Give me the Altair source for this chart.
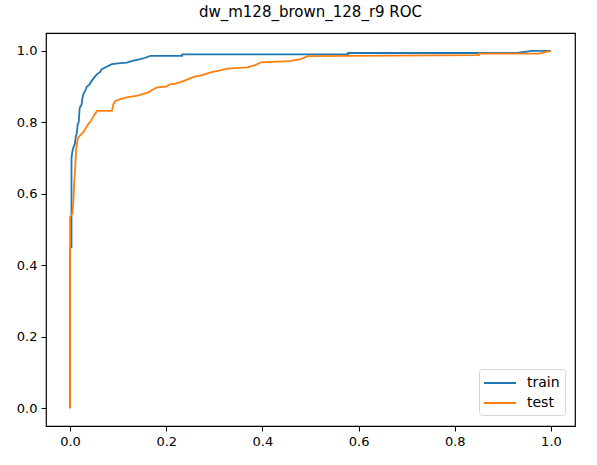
import altair as alt
import pandas as pd

TITLE = "dw_m128_brown_128_r9 ROC"

train_fpr = [0.0, 0.0, 0.003, 0.003, 0.005, 0.007, 0.010, 0.012, 0.014, 0.016, 0.018, 0.020,
             0.024, 0.026, 0.028, 0.032, 0.035, 0.040, 0.045, 0.050, 0.056, 0.062, 0.066,
             0.075, 0.087, 0.100, 0.118, 0.130, 0.146, 0.155, 0.167, 0.233, 0.233, 0.578,
             0.578, 0.930, 0.960, 1.0]
train_tpr = [0.0, 0.45, 0.45, 0.70, 0.72, 0.73, 0.74, 0.76, 0.77, 0.795, 0.80, 0.84,
             0.85, 0.87, 0.88, 0.89, 0.90, 0.905, 0.916, 0.925, 0.935, 0.94, 0.949,
             0.955, 0.963, 0.965, 0.967, 0.972, 0.977, 0.98, 0.986, 0.986, 0.99, 0.99,
             0.994, 0.994, 1.0, 1.0]

test_fpr = [0.0, 0.0, 0.005, 0.007, 0.009, 0.011, 0.0125, 0.014, 0.017, 0.022, 0.028, 0.033,
            0.038, 0.044, 0.049, 0.056, 0.087, 0.090, 0.094, 0.105, 0.118, 0.140, 0.163,
            0.170, 0.181, 0.200, 0.209, 0.216, 0.237, 0.257, 0.275, 0.292, 0.310, 0.327,
            0.369, 0.385, 0.397, 0.456, 0.480, 0.494, 0.850, 0.850, 0.975, 1.0]
test_tpr = [0.0, 0.535, 0.545, 0.58, 0.637, 0.68, 0.72, 0.74, 0.758, 0.765, 0.773, 0.785,
            0.795, 0.805, 0.818, 0.832, 0.832, 0.85, 0.86, 0.865, 0.87, 0.875, 0.884,
            0.89, 0.898, 0.90, 0.907, 0.907, 0.916, 0.927, 0.932, 0.94, 0.945, 0.95,
            0.954, 0.96, 0.968, 0.971, 0.977, 0.985, 0.988, 0.992, 0.992, 1.0]

series = ["train", "test"]
colors = ["#1f77b4", "#ff7f0e"]
ticks = [0.0, 0.2, 0.4, 0.6, 0.8, 1.0]

rows = []
for i, (x, y) in enumerate(zip(train_fpr, train_tpr)):
    rows.append({"fpr": x, "tpr": y, "set": "train", "i": i})
for i, (x, y) in enumerate(zip(test_fpr, test_tpr)):
    rows.append({"fpr": x, "tpr": y, "set": "test", "i": i})
df = pd.DataFrame(rows)

FONT = "DejaVu Sans"

xs = alt.Scale(domain=[-0.05, 1.05], nice=False, zero=False)
ys = alt.Scale(domain=[-0.05, 1.05], nice=False, zero=False)
cs = alt.Scale(domain=series, range=colors)

def axis():
    return alt.Axis(values=ticks, format=".1f", grid=False, domain=False,
                    tickColor="#000", tickSize=5, tickWidth=1,
                    labelFont=FONT, labelFontSize=13, labelColor="#000",
                    labelPadding=4)

def layer(name, show_legend):
    return alt.Chart(df).transform_filter(alt.datum.set == name).mark_line(
        strokeWidth=1.8, clip=True
    ).encode(
        x=alt.X("fpr:Q", scale=xs, title=None, axis=axis()),
        y=alt.Y("tpr:Q", scale=ys, title=None, axis=axis()),
        color=alt.Color("set:N", scale=cs, title=None,
                        legend=alt.Legend(
                            orient="none", legendX=433, legendY=336,
                            symbolType="M-2,0H2", symbolSize=256, symbolStrokeWidth=2,
                            labelFontSize=14, labelFont=FONT, labelColor="#000",
                            rowPadding=4, padding=5, strokeColor="#d6d6d6",
                            fillColor="white", cornerRadius=3,
                            symbolOffset=7, labelOffset=18,
                        ) if show_legend else None),
        order="i:Q",
    )

chart = alt.layer(layer("train", True), layer("test", False)).properties(
    width=529, height=393,
    title=alt.Title(TITLE, font=FONT, fontSize=15, fontWeight="normal", color="#000",
                    anchor="middle", offset=13),
    autosize=alt.AutoSizeParams(type="none"),
    padding={"left": 46, "top": 33, "right": 22, "bottom": 39},
    background="white",
).configure_view(
    stroke="#000", strokeWidth=1.2
)

chart.save("out.html", embed_options={"renderer": "svg", "actions": False})
